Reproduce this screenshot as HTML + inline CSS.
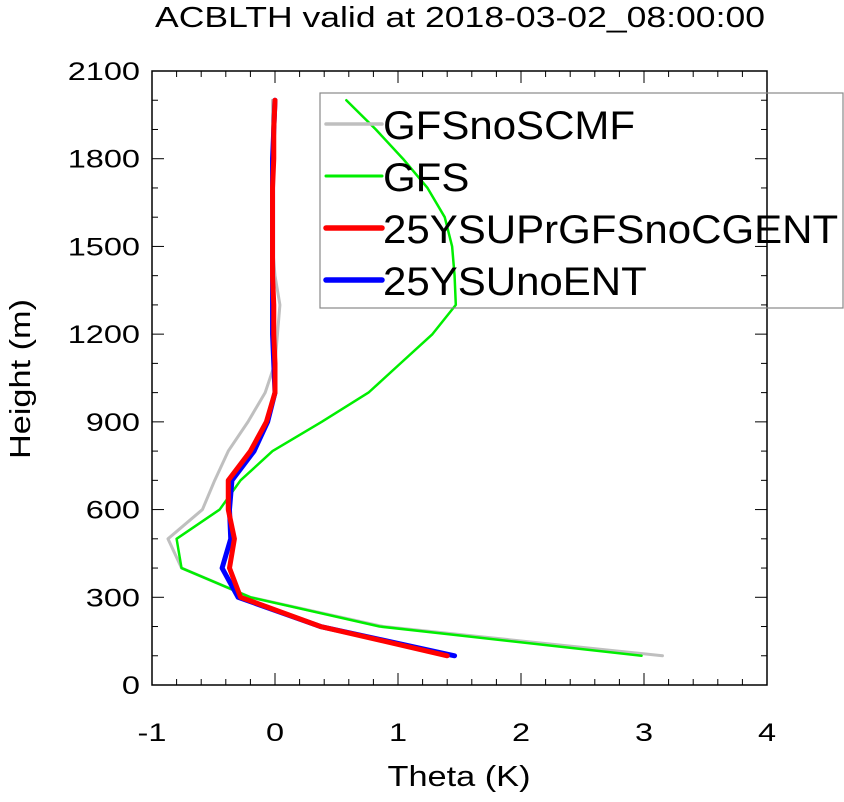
<!DOCTYPE html>
<html><head><meta charset="utf-8"><style>
body{margin:0;background:#fff;}
svg text{font-family:"Liberation Sans",sans-serif;fill:#000;}
</style></head><body>
<svg id="chart" width="844" height="797" xmlns="http://www.w3.org/2000/svg">
<text id="ttl" x="460" y="27" font-size="29" text-anchor="middle" textLength="610" lengthAdjust="spacingAndGlyphs">ACBLTH valid at 2018-03-02_08:00:00</text>
<g id="axes"></g>
<g id="series"></g>
<text x="459" y="786" font-size="29" text-anchor="middle" textLength="143" lengthAdjust="spacingAndGlyphs">Theta (K)</text>
<text transform="translate(30,379) rotate(-90)" font-size="29" text-anchor="middle" textLength="160" lengthAdjust="spacingAndGlyphs">Height (m)</text>
<g id="legend"></g>
</svg>
<script>
const heights=[100,200,300,400,500,600,700,800,900,1000,1100,1200,1300,1400,1500,1600,1700,1800,1900,2000];
const gfsNoScmf=[3.15,0.88,-0.2,-0.76,-0.87,-0.59,-0.49,-0.38,-0.22,-0.08,0.0,0.02,0.04,0.0,-0.02,-0.02,-0.02,-0.02,-0.02,-0.02];
const gfs=[2.98,0.85,-0.2,-0.76,-0.8,-0.45,-0.28,-0.02,0.38,0.76,1.02,1.28,1.47,1.46,1.44,1.38,1.24,1.04,0.82,0.58];
const ysuPr=[1.40,0.37,-0.28,-0.37,-0.33,-0.38,-0.38,-0.2,-0.07,0.0,0.0,-0.01,-0.01,-0.02,-0.02,-0.02,-0.02,-0.01,-0.01,0.0];
const ysuNoEnt=[1.46,0.37,-0.3,-0.43,-0.36,-0.37,-0.35,-0.17,-0.06,0.0,-0.01,-0.02,-0.02,-0.02,-0.02,-0.02,-0.02,-0.02,-0.01,0.0];
const xTicks=[-1,0,1,2,3,4];
const yTicks=[0,300,600,900,1200,1500,1800,2100];
const seriesNames=["GFSnoSCMF","GFS","25YSUPrGFSnoCGENT","25YSUnoENT"];
const X0=152,X1=767,Y0=685,Y1=71;
const sx=v=>X0+(v+1)/5*(X1-X0);
const sy=h=>Y0-h/2100*(Y0-Y1);
const NS="http://www.w3.org/2000/svg";
function mk(t,a,p){const e=document.createElementNS(NS,t);for(const k in a)e.setAttribute(k,a[k]);p.appendChild(e);return e;}
function stretch(t,k){const w=t.getComputedTextLength();t.setAttribute('textLength',w*k);t.setAttribute('lengthAdjust','spacingAndGlyphs');}
const ax=document.getElementById('axes');
const frame=mk('rect',{x:X0,y:Y1,width:X1-X0,height:Y0-Y1,fill:'none',stroke:'#000','stroke-width':1.5},ax);


for(let v=-1;v<=4.001;v+=0.2){const x=sx(v);const maj=Math.abs(v-Math.round(v))<1e-6;const L=maj?12:6;
mk('line',{x1:x,x2:x,y1:Y0,y2:Y0-L,stroke:'#000'},ax);mk('line',{x1:x,x2:x,y1:Y1,y2:Y1+L,stroke:'#000'},ax);}
for(let h=0;h<=2100;h+=100){const y=sy(h);const maj=h%300===0;const L=maj?12:6;
mk('line',{x1:X0,x2:X0+L,y1:y,y2:y,stroke:'#000'},ax);mk('line',{x1:X1,x2:X1-L,y1:y,y2:y,stroke:'#000'},ax);}
xTicks.forEach(v=>{const t=mk('text',{x:sx(v),y:Y0+56,'font-size':25,'text-anchor':'middle'},ax);t.textContent=v;


stretch(t,1.3);});
yTicks.forEach(h=>{const t=mk('text',{x:X0-12,y:sy(h)+9,'font-size':25,'text-anchor':'end'},ax);t.textContent=h;


stretch(t,1.3);});
const sg=document.getElementById('series');
const styles=[['#bfbfbf',3],['#00ee00',2.5],['#ff0000',5],['#0000ff',5]];
const order=[0,1,3,2];
order.forEach(i=>{const arr=[gfsNoScmf,gfs,ysuPr,ysuNoEnt][i];
const pts=arr.map((v,j)=>sx(v)+','+sy(heights[j])).join(' ');
const p=mk('polyline',{points:pts,fill:'none',stroke:styles[i][0],'stroke-width':styles[i][1],'stroke-linejoin':'round','stroke-linecap':'round'},sg);

});
const lg=document.getElementById('legend');
const box=mk('rect',{x:320,y:93,width:523,height:215,fill:'none',stroke:'#888','stroke-width':1.2},lg);


seriesNames.forEach((n,i)=>{const y=124+i*52;
const l=mk('line',{x1:326,x2:382,y1:y,y2:y,stroke:styles[i][0],'stroke-width':styles[i][1]+0.5,'stroke-linecap':'round'},lg);


const t=mk('text',{x:383,y:y+15,'font-size':40},lg);t.textContent=n;


stretch(t,1.05);});
</script>
</body></html>
